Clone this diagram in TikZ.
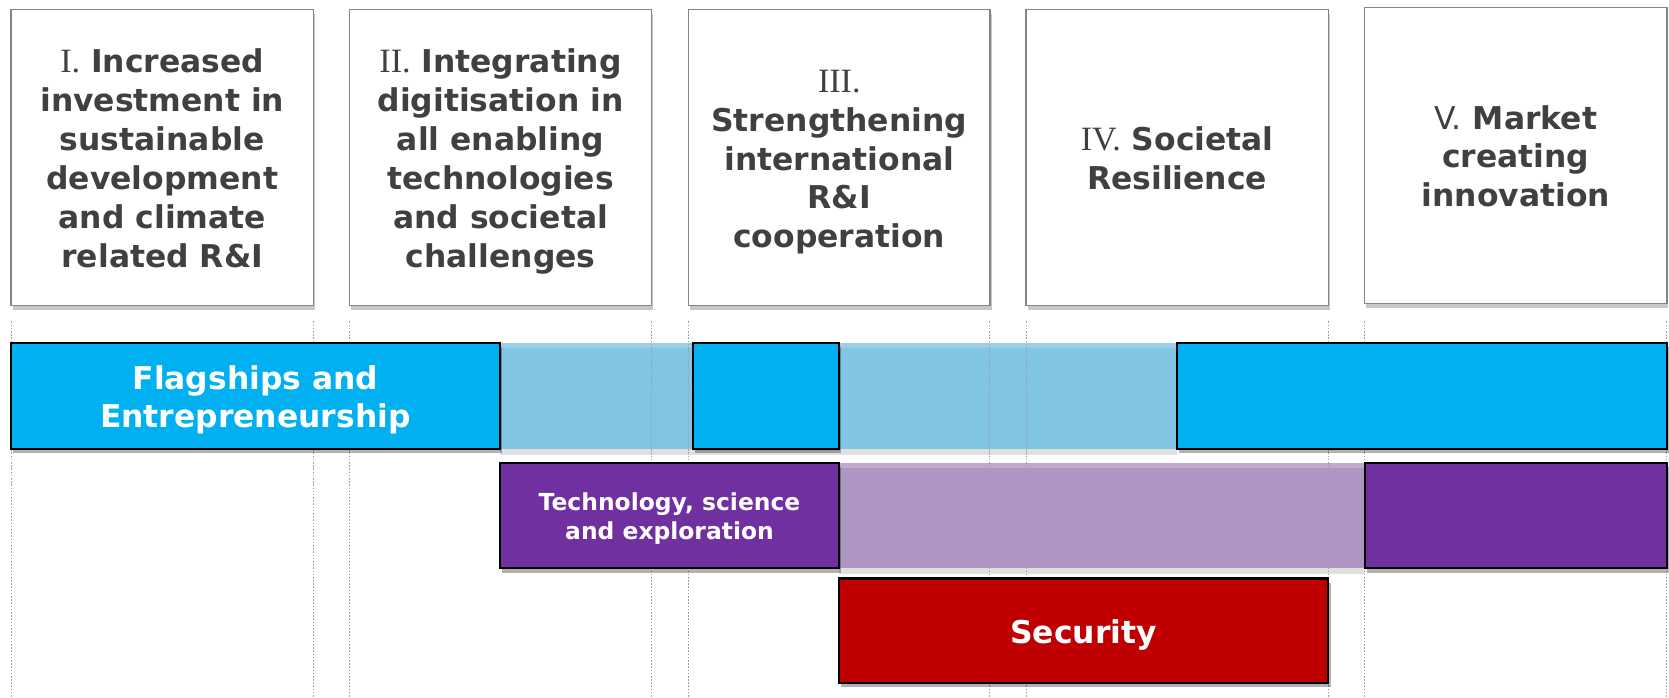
\documentclass[tikz,border=0pt]{standalone}
\usepackage{fontspec}
\setmainfont{DejaVu Sans}
\newfontfamily\numfont{Liberation Serif}
\usetikzlibrary{shadows}
\definecolor{txtgray}{HTML}{404040}
\definecolor{boxedge}{HTML}{858585}
\definecolor{fsblue}{HTML}{00B0F0}
\definecolor{fsband}{HTML}{80C5E1}
\definecolor{tspurple}{HTML}{7030A0}
\definecolor{tsband}{HTML}{AE95C4}
\definecolor{secred}{HTML}{C00000}
\definecolor{gridgray}{HTML}{A0A0A0}
\newcommand{\rn}[1]{{\numfont\mdseries\fontsize{32}{36.5}\selectfont #1}}
\newcommand{\strutA}{\rule[-6.5pt]{0pt}{36.5pt}}
\newcommand{\strutB}{\rule[-5pt]{0pt}{27pt}}
\begin{document}
\begin{tikzpicture}[x=1pt,y=-1pt,
  topbox/.style={draw=boxedge, line width=1.4pt, fill=white, inner sep=0pt, outer sep=0pt,
    align=center, text=txtgray, font=\fontsize{29.5}{36.5}\selectfont\bfseries,
    drop shadow={shadow xshift=1.5pt, shadow yshift=-4pt, opacity=0.22, fill=black}},
  bar/.style={draw=black, line width=2pt, inner sep=0pt, outer sep=0pt, align=center,
    text=white, font=\fontsize{29.5}{36.5}\selectfont\bfseries,
    drop shadow={shadow xshift=2pt, shadow yshift=-4pt, opacity=0.3, fill=black}},
  band/.style={draw=none, inner sep=0pt, outer sep=0pt,
    drop shadow={shadow xshift=0pt, shadow yshift=-5pt, opacity=0.12, fill=black}},
  grid/.style={draw=gridgray, line width=0.9pt, dash pattern=on 1.5pt off 1.5pt}
]
\useasboundingbox (0,0) rectangle (1568,655);
\fill[white] (0,0) rectangle (1568,655);

% top boxes
\node[topbox, minimum width=284pt, minimum height=278pt] (p1) at (152.5,148)
  {\strutA\rn{I.} Increased\\investment in\\sustainable\\development\\and climate\\related R\&I\strutA};
\node[topbox, minimum width=283.5pt, minimum height=278pt] (p2) at (470.25,148)
  {\strutA\rn{II.} Integrating\\digitisation in\\all enabling\\technologies\\and societal\\challenges\strutA};
\node[topbox, minimum width=283pt, minimum height=278pt] (p3) at (788.5,148)
  {\strutA\rn{III.}\\Strengthening\\international\\R\&I\\cooperation\strutA};
\node[topbox, minimum width=284pt, minimum height=278pt] (p4) at (1106,148)
  {\strutA\rn{IV.} Societal\\Resilience\strutA};
\node[topbox, minimum width=284pt, minimum height=278pt] (p5) at (1424,146)
  {\strutA{\mdseries V.} Market\\creating\\innovation\strutA};

% bands
\node[band, fill=fsband, minimum width=636pt, minimum height=100pt] (band1) at (788,372) {};
\node[band, fill=tsband, minimum width=494pt, minimum height=99pt] (band2) at (1035,484.5) {};
\fill[white, opacity=0.2] (470,322) rectangle (1106,327);
\fill[white, opacity=0.2] (788,435) rectangle (1282,440);

% dotted grid lines
\foreach \gx/\gn in {10.5/g1,294.5/g2,328.5/g3,612/g4,647/g5,930/g6,964/g7,1248/g8,1282/g9,1566/g10}{
  \coordinate (\gn a) at (\gx,302);
  \coordinate (\gn b) at (\gx,655);
  \draw[grid] (\gn a) -- (\gn b);
}

% solid bars
\node[bar, fill=fsblue, minimum width=460pt, minimum height=100pt] (flag) at (240,372)
  {\strutA Flagships and\\Entrepreneurship\strutA};
\node[bar, fill=fsblue, minimum width=137pt, minimum height=100pt] (blueA) at (719.5,372) {};
\node[bar, fill=fsblue, minimum width=460pt, minimum height=100pt] (blueB) at (1336,372) {};
\node[bar, fill=tspurple, minimum width=318pt, minimum height=99pt,
  font=\fontsize{22}{27}\selectfont\bfseries] (tech) at (629,484.5)
  {\strutB Technology, science\\and exploration\strutB};
\node[bar, fill=tspurple, minimum width=284pt, minimum height=99pt] (purpB) at (1424,484.5) {};
\node[bar, fill=secred, minimum width=460pt, minimum height=98pt] (sec) at (1018,592.5)
  {\strutA Security};
\end{tikzpicture}
\end{document}
